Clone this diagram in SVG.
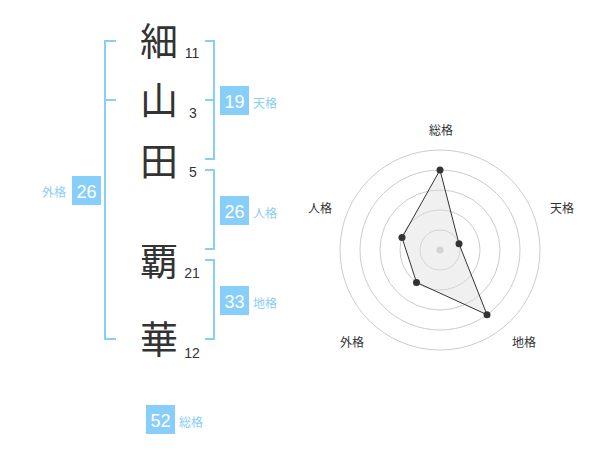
<svg xmlns="http://www.w3.org/2000/svg" width="600" height="470" viewBox="0 0 600 470">
<style>
.kanji{font-family:"Noto Sans CJK JP","Noto Sans CJK SC",sans-serif;font-size:38px;fill:#333;text-anchor:middle}
.num{font-family:"Liberation Sans",Arial,sans-serif;font-size:14px;fill:#333;text-anchor:middle}
.boxnum{font-family:"Liberation Sans",Arial,sans-serif;font-size:18px;fill:#fff;text-anchor:middle}
.lbl{font-family:"Noto Sans CJK JP","Noto Sans CJK SC",sans-serif;font-size:12px;fill:#87cefa}
.rl{font-family:"Noto Sans CJK JP","Noto Sans CJK SC",sans-serif;font-size:12px;fill:#333;text-anchor:middle}
.br{fill:none;stroke:#87cefa;stroke-width:2}
.box{fill:#87cefa}
.ring{fill:none;stroke:#ccc;stroke-width:1}
.dot{fill:#333}
</style>
<rect width="600" height="470" fill="#fff"/>
<g id="chars">
<g id="c1"><text class="kanji" x="159" y="54.5">細</text><text class="num" x="192" y="58">11</text></g>
<g id="c2"><text class="kanji" x="159" y="114">山</text><text class="num" x="193" y="118">3</text></g>
<g id="c3"><text class="kanji" x="159" y="174.5">田</text><text class="num" x="193" y="177">5</text></g>
<g id="c4"><text class="kanji" x="159" y="274.5">覇</text><text class="num" x="192" y="278">21</text></g>
<g id="c5"><text class="kanji" x="159" y="352.5">華</text><text class="num" x="192" y="358">12</text></g>
</g>
<g id="connectors">
<path class="br" d="M116,41 H105 V339 H116 M105,100 H116"/>
<path class="br" d="M205,41 H214 V159 H205 M214,100 H205"/>
<path class="br" d="M205,170 H214 V249 H205"/>
<path class="br" d="M205,260 H214 V339 H205"/>
</g>
<g id="tenkaku"><rect class="box" x="220" y="86" width="29" height="29"/><text class="boxnum" x="234.5" y="107.5">19</text><text class="lbl" x="253" y="108">天格</text></g>
<g id="jinkaku"><rect class="box" x="220" y="196" width="29" height="29"/><text class="boxnum" x="234.5" y="217.5">26</text><text class="lbl" x="253" y="218">人格</text></g>
<g id="chikaku"><rect class="box" x="220" y="286" width="29" height="29"/><text class="boxnum" x="234.5" y="307.5">33</text><text class="lbl" x="253" y="308">地格</text></g>
<g id="gaikaku"><rect class="box" x="72" y="176" width="29" height="29"/><text class="boxnum" x="86.5" y="197.5">26</text><text class="lbl" x="66" y="197" text-anchor="end">外格</text></g>
<g id="soukaku"><rect class="box" x="146" y="405" width="29" height="29"/><text class="boxnum" x="160.5" y="426.5">52</text><text class="lbl" x="179" y="427">総格</text></g>
<g id="radar">
<circle class="ring" cx="440" cy="250" r="100"/>
<circle class="ring" cx="440" cy="250" r="80"/>
<circle class="ring" cx="440" cy="250" r="60"/>
<circle class="ring" cx="440" cy="250" r="40"/>
<circle class="ring" cx="440" cy="250" r="20"/>
<circle cx="440" cy="250" r="3.5" fill="#ccc"/>
<polygon points="440,170 459,243.8 487,314.7 416.5,282.4 402,237.6" fill="#ddd" fill-opacity="0.45" stroke="#333" stroke-width="1"/>
<circle class="dot" cx="440" cy="170" r="3.5"/>
<circle class="dot" cx="459" cy="243.8" r="3.5"/>
<circle class="dot" cx="487" cy="314.7" r="3.5"/>
<circle class="dot" cx="416.5" cy="282.4" r="3.5"/>
<circle class="dot" cx="402" cy="237.6" r="3.5"/>
<text class="rl" x="441" y="135">総格</text>
<text class="rl" x="562" y="213">天格</text>
<text class="rl" x="320" y="213">人格</text>
<text class="rl" x="524" y="347">地格</text>
<text class="rl" x="352" y="347">外格</text>
</g>
</svg>
